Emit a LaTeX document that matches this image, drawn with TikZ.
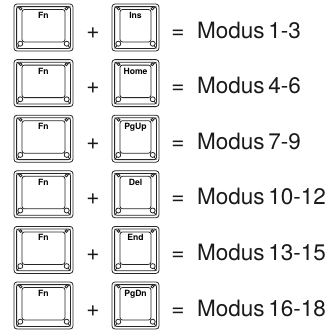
\documentclass[tikz,border=0pt]{standalone}
\usepackage{fontspec}
\setmainfont{TeX Gyre Heros}
\usetikzlibrary{positioning}

\begin{document}
\begin{tikzpicture}[
    x=1pt, y=-1pt,
    keyline/.style={draw=black!85, line width=0.8pt},
    keylabel/.style={font=\fontsize{8.6}{9}\selectfont\bfseries, inner sep=0pt, anchor=base},
    optext/.style={font=\fontsize{22.5}{24}\selectfont, text=black!90, inner sep=0pt, anchor=base},
]
    \useasboundingbox (0,0) rectangle (331,333);

    \foreach \lab/\range [count=\i from 0] in {Ins/1-3, Home/4-6, PgUp/7-9, Del/10-12, End/13-15, PgDn/16-18} {
        \pgfmathsetmacro\cy{27.5+55.6*\i}
        % the two keys of a row
        \foreach \cx/\w/\txt [count=\k] in {43.5/59/Fn, 135.5/47/\lab} {
            \pgfmathsetmacro\xl{\cx-\w/2}
            \pgfmathsetmacro\xr{\cx+\w/2}
            \pgfmathsetmacro\yt{\cy-23.5}
            \pgfmathsetmacro\yb{\cy+23.5}
            \draw[keyline, rounded corners=3pt] (\xl,\yt) rectangle (\xr,\yb);
            \draw[keyline, rounded corners=2pt] (\xl+2.6,\yt+2.6) rectangle (\xr-2.6,\yb-2.6);
            \draw[keyline, rounded corners=2.5pt] (\xl+8,\yt+5.5) rectangle (\xr-8,\yb-9);
            \draw[keyline] (\xl+2.6,\yt+2.6) -- (\xl+8,\yt+5.5)
                           (\xr-2.6,\yt+2.6) -- (\xr-8,\yt+5.5)
                           (\xl+2.6,\yb-2.6) -- (\xl+8,\yb-9)
                           (\xr-2.6,\yb-2.6) -- (\xr-8,\yb-9);
            \draw[keyline, fill=white] (\xl+6.3,\yb-7.3) circle (2.5pt)
                                      (\xr-6.3,\yb-7.3) circle (2.5pt)
                                      (\xl+6.6,\yt+4.6) circle (1.4pt)
                                      (\xr-6.6,\yt+4.6) circle (1.4pt);
            \node[keylabel] (key\i\k) at (\cx,\yt+14.5) {\txt};
        }
        \node[optext] (plus\i) at (93,\cy+10.5) {+};
        \node[optext] (eq\i) at (178,\cy+10.5) {=};
        \node[optext, anchor=base west] (mode\i) at (197,\cy+10.5) {Modus\hspace{0.16em}\range};
    }
\end{tikzpicture}
\end{document}
